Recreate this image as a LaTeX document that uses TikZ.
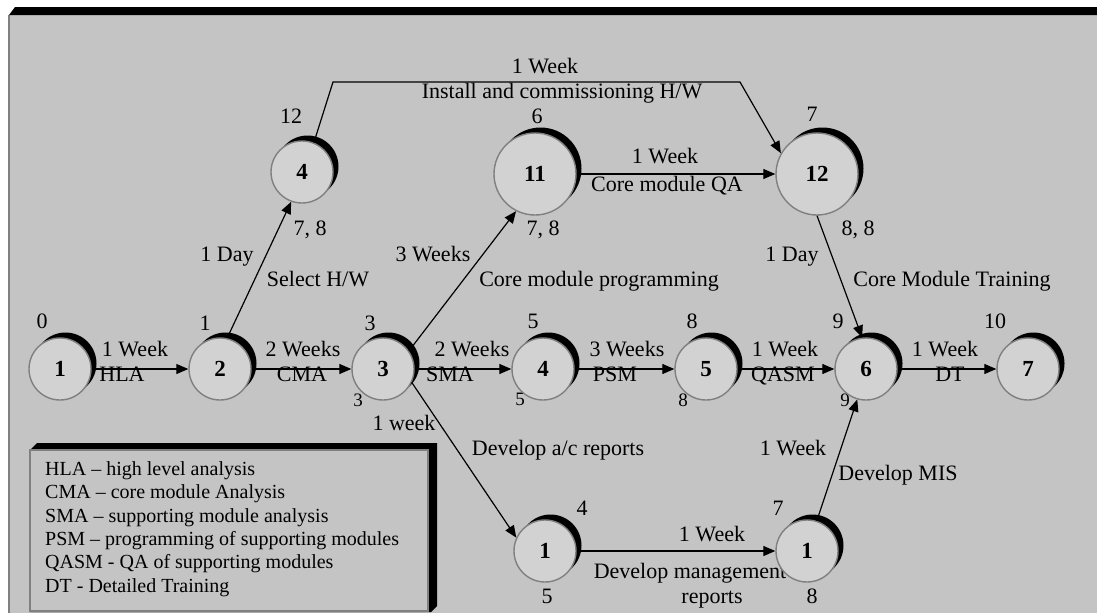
\documentclass[tikz,border=0pt]{standalone}
\usepackage{fontspec}
\setmainfont{Liberation Serif}
\usetikzlibrary{arrows.meta,shadows}
\definecolor{panel}{RGB}{196,196,196}
\definecolor{nodefill}{RGB}{210,210,210}
\definecolor{rim}{RGB}{128,128,128}
\begin{document}
\begin{tikzpicture}[x=1pt,y=-1pt,
  ev/.style={circle, draw=rim, line width=1.4pt, fill=nodefill, minimum size=62pt, inner sep=0pt,
    font=\fontsize{23}{26}\selectfont\bfseries,
    drop shadow={shadow xshift=5.5pt, shadow yshift=5.5pt, fill=black, opacity=1}},
  bigev/.style={ev, minimum size=82pt},
  lbl/.style={inner sep=0pt, font=\fontsize{22}{26}\selectfont, text height=0.66em, text depth=0pt},
  sml/.style={lbl, font=\fontsize{19}{22}\selectfont},
  leg/.style={lbl, font=\fontsize{20}{23}\selectfont, anchor=west},
  arr/.style={line width=1.2pt, -{Triangle[length=12pt,width=10pt]}}]
\useasboundingbox (0,0) rectangle (1097,613);
\fill[white] (0,0) rectangle (1097,613);
% panel
\fill[panel] (8,15) rectangle (1097,613);
\draw[rim, line width=2pt] (9,15) -- (9,613);
\fill[black] (9,15) -- (15,7) -- (1097,7) -- (1097,15) -- cycle;
% legend box
\fill[black] (30,450) -- (37,443) -- (437,443) -- (437,606) -- (431,612) -- (30,612) -- cycle;
\filldraw[fill=panel, draw=rim, line width=1.5pt] (30,450) rectangle (428,611);
\node[leg] (lg1) at (45,472) {HLA – high level analysis};
\node[leg] (lg2) at (45,495.5) {CMA – core module Analysis};
\node[leg] (lg3) at (45,519) {SMA – supporting module analysis};
\node[leg] (lg4) at (45,542) {PSM – programming of supporting modules};
\node[leg] (lg5) at (45,565.5) {QASM - QA of supporting modules};
\node[leg] (lg6) at (45,589) {DT - Detailed Training};
% edge labels
\node[lbl] (a1) at (135,353) {1 Week};
\node[lbl] (b1) at (122,378) {HLA};
\node[lbl] (a2) at (303,353) {2 Weeks};
\node[lbl] (b2) at (302,378) {CMA};
\node[lbl] (a3) at (472,353) {2 Weeks};
\node[lbl] (b3) at (450,378) {SMA};
\node[lbl] (a4) at (627,353) {3 Weeks};
\node[lbl] (b4) at (615,378) {PSM};
\node[lbl] (a5) at (785,353) {1 Week};
\node[lbl] (b5) at (783,378) {QASM};
\node[lbl] (a6) at (945,353) {1 Week};
\node[lbl] (b6) at (950,378) {DT};
\node[lbl] (a7) at (545,70) {1 Week};
\node[lbl] (b7) at (562,95) {Install and commissioning H/W};
\node[lbl] (a8) at (665,160) {1 Week};
\node[lbl] (b8) at (667,188) {Core module QA};
\node[lbl] (a9) at (227,258) {1 Day};
\node[lbl] (b9) at (318,283) {Select H/W};
\node[lbl] (a10) at (433,258) {3 Weeks};
\node[lbl] (b10) at (599,283) {Core module programming};
\node[lbl] (a11) at (792,258) {1 Day};
\node[lbl] (b11) at (952,283) {Core Module Training};
\node[lbl] (a12) at (404,427) {1 week};
\node[lbl] (b12) at (558,452) {Develop a/c reports};
\node[lbl] (a13) at (793,452) {1 Week};
\node[lbl] (b13) at (898,477) {Develop MIS};
\node[lbl] (a14) at (712,538) {1 Week};
\node[lbl] (b14) at (690,575) {Develop management};
\node[lbl] (c14) at (712,600) {reports};
% event times
\node[lbl] (t1) at (42,325) {0};
\node[lbl] (t2) at (205,327) {1};
\node[lbl] (t3) at (370,327) {3};
\node[sml] (u3) at (358,403) {3};
\node[lbl] (t4a) at (291,120) {12};
\node[lbl] (u4a) at (310,232) {7, 8};
\node[lbl] (t11) at (537,120) {6};
\node[lbl] (u11) at (543,232) {7, 8};
\node[lbl] (t12) at (812,118) {7};
\node[lbl] (u12) at (858,232) {8, 8};
\node[lbl] (t4b) at (533,325) {5};
\node[sml] (u4b) at (520,402) {5};
\node[lbl] (t5) at (692,325) {8};
\node[sml] (u5) at (683,403) {8};
\node[lbl] (t6) at (838,325) {9};
\node[sml] (u6) at (845,403) {9};
\node[lbl] (t7) at (995,325) {10};
\node[lbl] (t1a) at (582,512) {4};
\node[lbl] (u1a) at (547,600) {5};
\node[lbl] (t1b) at (778,512) {7};
\node[lbl] (u1b) at (812,600) {8};
% events
\node[ev] (n1) at (60,369) {1};
\node[ev] (n2) at (220,369) {2};
\node[ev] (n3) at (383,369) {3};
\node[ev] (n4b) at (543,369) {4};
\node[ev] (n5) at (706,369) {5};
\node[ev] (n6) at (866,369) {6};
\node[ev] (n7) at (1028,369) {7};
\node[ev] (n4a) at (302,172) {4};
\node[bigev] (n11) at (535,174) {11};
\node[bigev] (n12) at (817,174) {12};
\node[ev] (n1a) at (545,551) {1};
\node[ev] (n1b) at (807,551) {1};
% connectors
\coordinate (k1) at (333,82);
\coordinate (k2) at (740,82);
\draw[arr] (n1) -- (n2);
\draw[arr] (n2) -- (n3);
\draw[arr] (n3) -- (n4b);
\draw[arr] (n4b) -- (n5);
\draw[arr] (n5) -- (n6);
\draw[arr] (n6) -- (n7);
\draw[arr] (n2.77) -- (n4a.250);
\draw[arr] (n4a.68) -- (k1) -- (k2) -- (n12.150);
\draw[arr] (n11) -- (n12);
\draw[arr] (n3.35) -- (n11.243);
\draw[arr] (n12.270) -- (n6.97);
\draw[arr] (n3.-25) -- (n1a.155);
\draw[arr] (n1a) -- (n1b);
\draw[arr] (n1b.72) -- (n6.254);
\end{tikzpicture}
\end{document}
